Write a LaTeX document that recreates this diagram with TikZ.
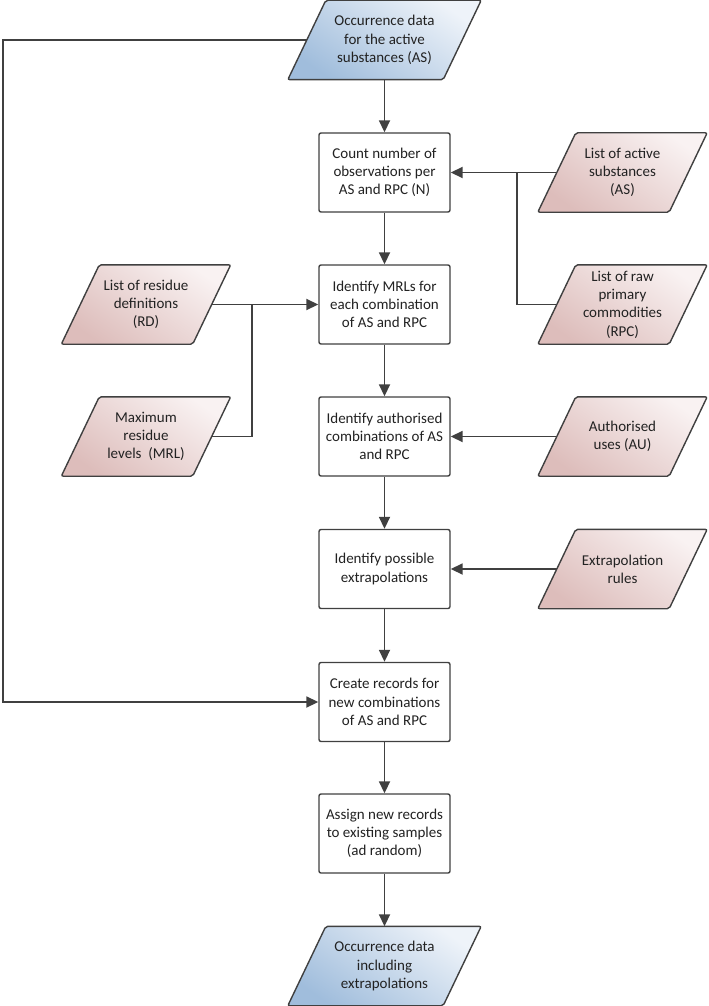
\documentclass[tikz,border=0pt]{standalone}
\usepackage{fontspec}
\setmainfont{Carlito}
\usetikzlibrary{arrows.meta,backgrounds}
\definecolor{linec}{HTML}{404040}
\definecolor{txtc}{HTML}{222222}
\definecolor{bluedark}{HTML}{A0BDDC}
\definecolor{bluelight}{HTML}{EEF3F9}
\definecolor{pinkdark}{HTML}{DDBDBB}
\definecolor{pinklight}{HTML}{F9F2F2}
\tikzset{
  lbl/.style={align=center, text=txtc, font=\fontsize{15}{18.3}\selectfont, inner sep=0pt},
  procbox/.style={lbl, draw=linec, line width=1.4pt, rounded corners=2pt, fill=white,
    minimum width=131pt, minimum height=79pt},
  bluepara/.style={lbl, minimum width=155pt, minimum height=79pt},
  pinkpara/.style={lbl, minimum width=131pt, minimum height=79pt},
  conn/.style={draw=linec, line width=1.8pt},
  arr/.style={conn, -{Triangle[length=12pt,width=11pt]}},
  bluefill/.style={draw=linec, line width=1.4pt, rounded corners=2pt,
    top color=bluelight, bottom color=bluedark, shading angle=-35},
  pinkfill/.style={draw=linec, line width=1.4pt, rounded corners=2pt,
    top color=pinklight, bottom color=pinkdark, shading angle=-35},
}
\begin{document}
\begin{tikzpicture}[x=1pt, y=-1pt]
\useasboundingbox (0,0) rectangle (709,1006);
% main column
\node[bluepara] (occ) at (384.5,40) {Occurrence data\\for the active\\substances (AS)};
\node[procbox] (count) at (384.5,172.5) {Count number of\\observations per\\AS and RPC (N)};
\node[procbox] (idmrl) at (384.5,304.5) {Identify MRLs for\\each combination\\of AS and RPC};
\node[procbox] (auth) at (384.5,436.5) {Identify authorised\\combinations of AS\\and RPC};
\node[procbox] (extra) at (384.5,569) {Identify possible\\extrapolations};
\node[procbox] (create) at (384.5,702) {Create records for\\new combinations\\of AS and RPC};
\node[procbox] (assign) at (384.5,833.5) {Assign new records\\to existing samples\\(ad random)};
\node[bluepara] (occ2) at (384.5,966) {Occurrence data\\including\\extrapolations};
% left inputs
\node[pinkpara] (rd) at (146,304.5) {List of residue\\definitions\\(RD)};
\node[pinkpara] (mrllist) at (146,436.5) {Maximum\\residue\\levels~~(MRL)};
% right inputs
\node[pinkpara] (aslist) at (622.5,172.5) {List of active\\substances\\(AS)};
\node[pinkpara] (rpc) at (622.5,304.5) {List of raw\\primary\\commodities\\(RPC)};
\node[pinkpara] (au) at (622.5,436.5) {Authorised\\uses (AU)};
\node[pinkpara] (exr) at (622.5,569) {Extrapolation\\rules};
% parallelogram outlines
\begin{scope}[on background layer]
\foreach \n in {occ,occ2}{
  \path[bluefill] ([xshift=-19pt]\n.south west) -- ([xshift=-19pt]\n.south east)
    -- ([xshift=19pt]\n.north east) -- ([xshift=19pt]\n.north west) -- cycle;
}
\foreach \n in {rd,mrllist,aslist,rpc,au,exr}{
  \path[pinkfill] ([xshift=-19pt]\n.south west) -- ([xshift=-19pt]\n.south east)
    -- ([xshift=19pt]\n.north east) -- ([xshift=19pt]\n.north west) -- cycle;
}
\end{scope}
% junction coordinates
\coordinate (jr) at (517,304.5);
\coordinate (jl) at (252,304.5);
\coordinate (lt) at (3,40);
% main flow
\draw[arr] (occ.south) -- (count.north);
\draw[arr] (count.south) -- (idmrl.north);
\draw[arr] (idmrl.south) -- (auth.north);
\draw[arr] (auth.south) -- (extra.north);
\draw[arr] (extra.south) -- (create.north);
\draw[arr] (create.south) -- (assign.north);
\draw[arr] (assign.south) -- (occ2.north);
% side inputs
\draw[arr] (aslist.west) -- (count.east);
\draw[conn] (rpc.west) -- (jr) -- (jr |- aslist.west);
\draw[arr] (rd.east) -- (idmrl.west);
\draw[conn] (mrllist.east) -| (jl);
\draw[arr] (au.west) -- (auth.east);
\draw[arr] (exr.west) -- (extra.east);
\draw[arr] (occ.west) -- (lt) |- (create.west);
\end{tikzpicture}
\end{document}
